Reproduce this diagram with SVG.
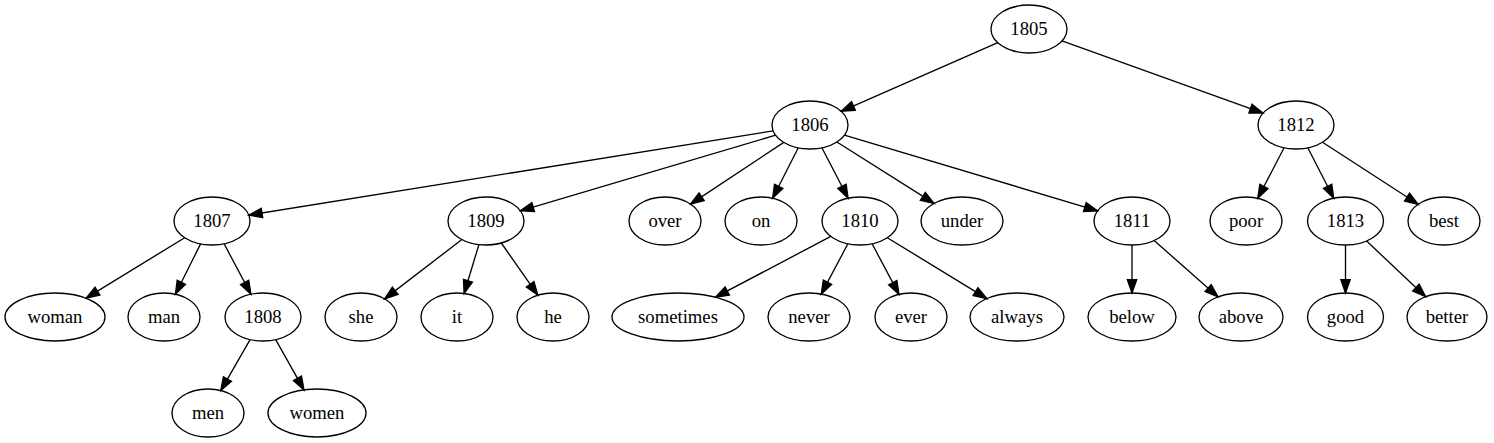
<svg xmlns="http://www.w3.org/2000/svg" width="1494" height="443" viewBox="0 0 1494 443">
<style>
.node ellipse{fill:none;stroke:#000;stroke-width:1.33}
.node text{font-family:"Liberation Serif","Times New Roman",serif;font-size:18.67px;text-anchor:middle;fill:#000}
#edges line{stroke:#000;stroke-width:1.33;marker-end:url(#arr)}
</style>
<defs>
<marker id="arr" markerUnits="userSpaceOnUse" markerWidth="16" markerHeight="12" refX="13.33" refY="4.67" orient="auto" overflow="visible">
<path d="M0,0 L13.33,4.67 L0,9.33 z" fill="#000" stroke="#000" stroke-width="1.33" stroke-linejoin="miter"/>
</marker>
</defs>
<rect width="1494" height="443" fill="#fff"/>
<g id="edges">
<line x1="997.8" y1="42.7" x2="841.2" y2="111.3"/>
<line x1="1062.0" y1="40.9" x2="1263.0" y2="113.1"/>
<line x1="773.2" y1="130.9" x2="248.8" y2="215.1"/>
<line x1="775.6" y1="135.2" x2="520.4" y2="210.8"/>
<line x1="783.8" y1="142.4" x2="690.5" y2="204.1"/>
<line x1="798.3" y1="147.8" x2="772.6" y2="198.3"/>
<line x1="821.9" y1="147.8" x2="848.1" y2="198.2"/>
<line x1="836.9" y1="142.0" x2="934.1" y2="203.4"/>
<line x1="844.4" y1="135.2" x2="1097.6" y2="210.8"/>
<line x1="1284.1" y1="147.8" x2="1257.8" y2="198.3"/>
<line x1="1307.8" y1="147.8" x2="1333.7" y2="198.2"/>
<line x1="1322.5" y1="142.2" x2="1418.2" y2="204.3"/>
<line x1="184.7" y1="237.7" x2="86.1" y2="298.1"/>
<line x1="200.6" y1="243.9" x2="175.4" y2="294.2"/>
<line x1="224.1" y1="243.8" x2="250.9" y2="294.3"/>
<line x1="250.1" y1="339.6" x2="220.8" y2="390.6"/>
<line x1="275.7" y1="339.6" x2="304.0" y2="389.9"/>
<line x1="461.9" y1="239.5" x2="384.6" y2="298.9"/>
<line x1="478.9" y1="244.6" x2="464.1" y2="293.5"/>
<line x1="501.3" y1="243.0" x2="537.8" y2="295.2"/>
<line x1="830.8" y1="236.4" x2="715.5" y2="297.2"/>
<line x1="847.9" y1="243.8" x2="821.2" y2="294.1"/>
<line x1="872.1" y1="243.8" x2="899.0" y2="294.4"/>
<line x1="887.3" y1="237.7" x2="986.9" y2="298.6"/>
<line x1="1132" y1="245" x2="1132" y2="293"/>
<line x1="1154.1" y1="240.5" x2="1218.1" y2="296.9"/>
<line x1="1345.5" y1="245" x2="1345.5" y2="293"/>
<line x1="1366.6" y1="241.0" x2="1425.6" y2="296.7"/>
</g>
<g id="n1805" class="node"><ellipse cx="1029" cy="29" rx="38" ry="24"/><text x="1029" y="35">1805</text></g>
<g id="n1806" class="node"><ellipse cx="810" cy="125" rx="38" ry="24"/><text x="810" y="131">1806</text></g>
<g id="n1812" class="node"><ellipse cx="1296" cy="125" rx="38" ry="24"/><text x="1296" y="131">1812</text></g>
<g id="n1807" class="node"><ellipse cx="212" cy="221" rx="38" ry="24"/><text x="212" y="227">1807</text></g>
<g id="n1809" class="node"><ellipse cx="486" cy="221" rx="38" ry="24"/><text x="486" y="227">1809</text></g>
<g id="over" class="node"><ellipse cx="665" cy="221" rx="36" ry="24"/><text x="665" y="227">over</text></g>
<g id="on" class="node"><ellipse cx="761" cy="221" rx="36" ry="24"/><text x="761" y="227">on</text></g>
<g id="n1810" class="node"><ellipse cx="860" cy="221" rx="38" ry="24"/><text x="860" y="227">1810</text></g>
<g id="under" class="node"><ellipse cx="962" cy="221" rx="41" ry="24"/><text x="962" y="227">under</text></g>
<g id="n1811" class="node"><ellipse cx="1132" cy="221" rx="38" ry="24"/><text x="1132" y="227">1811</text></g>
<g id="poor" class="node"><ellipse cx="1246" cy="221" rx="36" ry="24"/><text x="1246" y="227">poor</text></g>
<g id="n1813" class="node"><ellipse cx="1345.5" cy="221" rx="38" ry="24"/><text x="1345.5" y="227">1813</text></g>
<g id="best" class="node"><ellipse cx="1444" cy="221" rx="36" ry="24"/><text x="1444" y="227">best</text></g>
<g id="woman" class="node"><ellipse cx="55" cy="317" rx="50" ry="24"/><text x="55" y="323">woman</text></g>
<g id="man" class="node"><ellipse cx="164" cy="317" rx="36" ry="24"/><text x="164" y="323">man</text></g>
<g id="n1808" class="node"><ellipse cx="263" cy="317" rx="38" ry="24"/><text x="263" y="323">1808</text></g>
<g id="she" class="node"><ellipse cx="361" cy="317" rx="36" ry="24"/><text x="361" y="323">she</text></g>
<g id="it" class="node"><ellipse cx="457" cy="317" rx="36" ry="24"/><text x="457" y="323">it</text></g>
<g id="he" class="node"><ellipse cx="553" cy="317" rx="36" ry="24"/><text x="553" y="323">he</text></g>
<g id="sometimes" class="node"><ellipse cx="678" cy="317" rx="66" ry="24"/><text x="678" y="323">sometimes</text></g>
<g id="never" class="node"><ellipse cx="809" cy="317" rx="41" ry="24"/><text x="809" y="323">never</text></g>
<g id="ever" class="node"><ellipse cx="911" cy="317" rx="36" ry="24"/><text x="911" y="323">ever</text></g>
<g id="always" class="node"><ellipse cx="1017" cy="317" rx="47" ry="24"/><text x="1017" y="323">always</text></g>
<g id="below" class="node"><ellipse cx="1132" cy="317" rx="44" ry="24"/><text x="1132" y="323">below</text></g>
<g id="above" class="node"><ellipse cx="1241" cy="317" rx="42" ry="24"/><text x="1241" y="323">above</text></g>
<g id="good" class="node"><ellipse cx="1345.5" cy="317" rx="38" ry="24"/><text x="1345.5" y="323">good</text></g>
<g id="better" class="node"><ellipse cx="1447" cy="317" rx="40" ry="24"/><text x="1447" y="323">better</text></g>
<g id="men" class="node"><ellipse cx="208" cy="413" rx="36" ry="24"/><text x="208" y="419">men</text></g>
<g id="women" class="node"><ellipse cx="317" cy="413" rx="49" ry="24"/><text x="317" y="419">women</text></g>
</svg>
